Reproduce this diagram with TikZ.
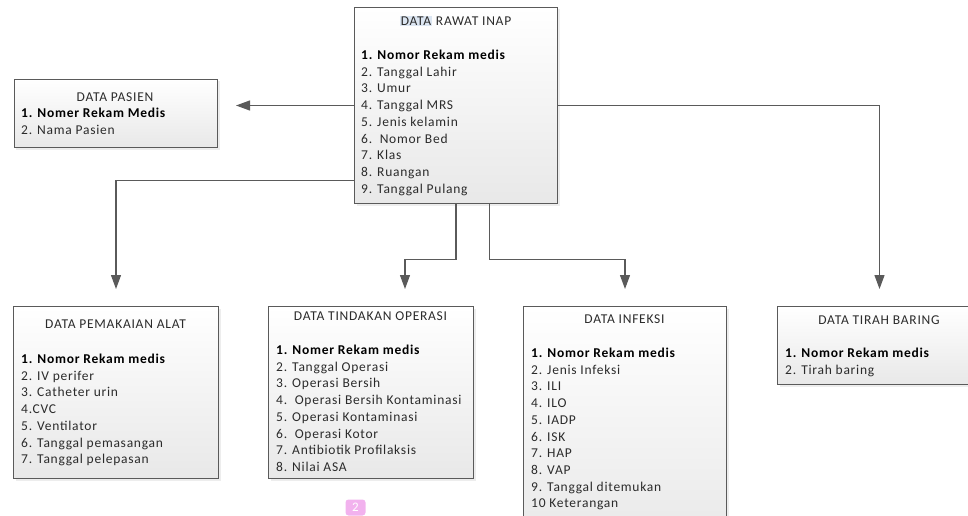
\documentclass[tikz,border=0pt]{standalone}
\usepackage{fontspec}
\setmainfont{Carlito}[LetterSpace=5.5]
\usetikzlibrary{arrows.meta,shadows}
\definecolor{edge}{HTML}{5A5A5A}
\definecolor{ink}{HTML}{2B2B2B}
\definecolor{sel}{HTML}{DCE6F2}
\definecolor{badge}{HTML}{F2B2EE}
\tikzset{
  tablebox/.style={draw=edge, line width=1pt, top color=white, bottom color=black!9,
    anchor=north west, inner sep=0pt,
    drop shadow={shadow xshift=2pt, shadow yshift=-2pt, fill=black!14}},
  title/.style={font=\fontsize{13.5}{16.7}\selectfont, text=ink, inner sep=0pt},
  field/.style={font=\fontsize{13.5}{16.7}\selectfont, text=ink, anchor=west,
    inner sep=0pt, text height=9pt, text depth=0pt},
  key/.style={field, text=black, font=\fontsize{13.5}{16.7}\selectfont\bfseries},
  link/.style={draw=edge, line width=1.2pt, -{Triangle[length=14pt,width=10pt]},
    shorten >=17pt},
}
\def\lh{16.7}

\begin{document}
\begin{tikzpicture}[x=1pt,y=-1pt]
\useasboundingbox (0,0) rectangle (968,516);

%% ---- data rawat inap ---------------------------------------------------
\node[tablebox, minimum width=203pt, minimum height=196pt] (rawat) at (354,7) {};
\node[title] (rawat-title) at (455.5,21) {{\fboxsep=1pt\colorbox{sel}{DATA}} RAWAT INAP};
\node[key] (rawat-key) at (361,55) {1. Nomor Rekam medis};
\foreach \f [count=\i] in {2. Tanggal Lahir, 3. Umur, 4. Tanggal MRS,
    5. Jenis kelamin, 6.\ \ Nomor Bed, 7. Klas, 8. Ruangan, 9. Tanggal Pulang}
  \node[field] (rawat-\i) at (361,{55+\i*\lh}) {\f};

%% ---- data pasien -------------------------------------------------------
\node[tablebox, minimum width=203.5pt, minimum height=68pt] (pasien) at (13.5,79) {};
\node[title] (pasien-title) at (115,97) {DATA PASIEN};
\node[key] (pasien-key) at (21,113) {1. Nomer Rekam Medis};
\node[field] (pasien-1) at (21,{113+\lh}) {2. Nama Pasien};

%% ---- data pemakaian alat -----------------------------------------------
\node[tablebox, minimum width=205pt, minimum height=172pt] (pemakaian) at (13,306) {};
\node[title] (pemakaian-title) at (115.5,324) {DATA PEMAKAIAN ALAT};
\node[key] (pemakaian-key) at (21,359) {1. Nomor Rekam medis};
\foreach \f [count=\i] in {2. IV perifer, 3. Catheter urin, 4.CVC, 5. Ventilator,
    6. Tanggal pemasangan, 7. Tanggal pelepasan}
  \node[field] (pemakaian-\i) at (21,{359+\i*\lh}) {\f};

%% ---- data tindakan operasi ---------------------------------------------
\node[tablebox, minimum width=205pt, minimum height=172pt] (tindakan) at (268,306) {};
\node[title] (tindakan-title) at (370.5,316) {DATA TINDAKAN OPERASI};
\node[key] (tindakan-key) at (276,350) {1. Nomer Rekam medis};
\foreach \f [count=\i] in {2. Tanggal Operasi, 3. Operasi Bersih,
    4.\ \ Operasi Bersih Kontaminasi, 5. Operasi Kontaminasi, 6.\ \ Operasi Kotor,
    7. Antibiotik Profilaksis, 8. Nilai ASA}
  \node[field] (tindakan-\i) at (276,{350+\i*\lh}) {\f};

%% ---- data infeksi (runs off the page) ----------------------------------
\node[tablebox, minimum width=203pt, minimum height=240pt] (infeksi) at (523,306) {};
\node[title] (infeksi-title) at (624.5,319) {DATA INFEKSI};
\node[key] (infeksi-key) at (531,353) {1. Nomor Rekam medis};
\foreach \f [count=\i] in {2. Jenis Infeksi, 3. ILI, 4. ILO, 5. IADP, 6. ISK,
    7. HAP, 8. VAP, 9. Tanggal ditemukan, 10 Keterangan}
  \node[field] (infeksi-\i) at (531,{353+\i*\lh}) {\f};

%% ---- data tirah baring -------------------------------------------------
\node[tablebox, minimum width=204pt, minimum height=78pt] (tirah) at (777,306) {};
\node[title] (tirah-title) at (879,320) {DATA TIRAH BARING};
\node[key] (tirah-key) at (785,353) {1. Nomor Rekam medis};
\node[field] (tirah-1) at (785,{353+\lh}) {2. Tirah baring};

%% ---- relations ---------------------------------------------------------
\draw[link, shorten >=18pt] (rawat.west) -- (rawat.west -| pasien.east);
\draw[link] (rawat.east) -| (tirah.north);
\draw[link] ([yshift=-75pt]rawat.west) -| (pemakaian.north);
\draw[link] (rawat.south) -- ++(0,55.5) -| ([xshift=34pt]tindakan.north);
\draw[link] ([xshift=33.5pt]rawat.south) -- ++(0,55.5) -| (infeksi.north);

% page badge at the foot
\node[fill=badge, text=white, rounded corners=3pt, minimum width=20pt,
  minimum height=16pt, inner sep=0pt, font=\fontsize{13}{13}\selectfont]
  (badge) at (355.5,507.5) {2};

\end{tikzpicture}
\end{document}
